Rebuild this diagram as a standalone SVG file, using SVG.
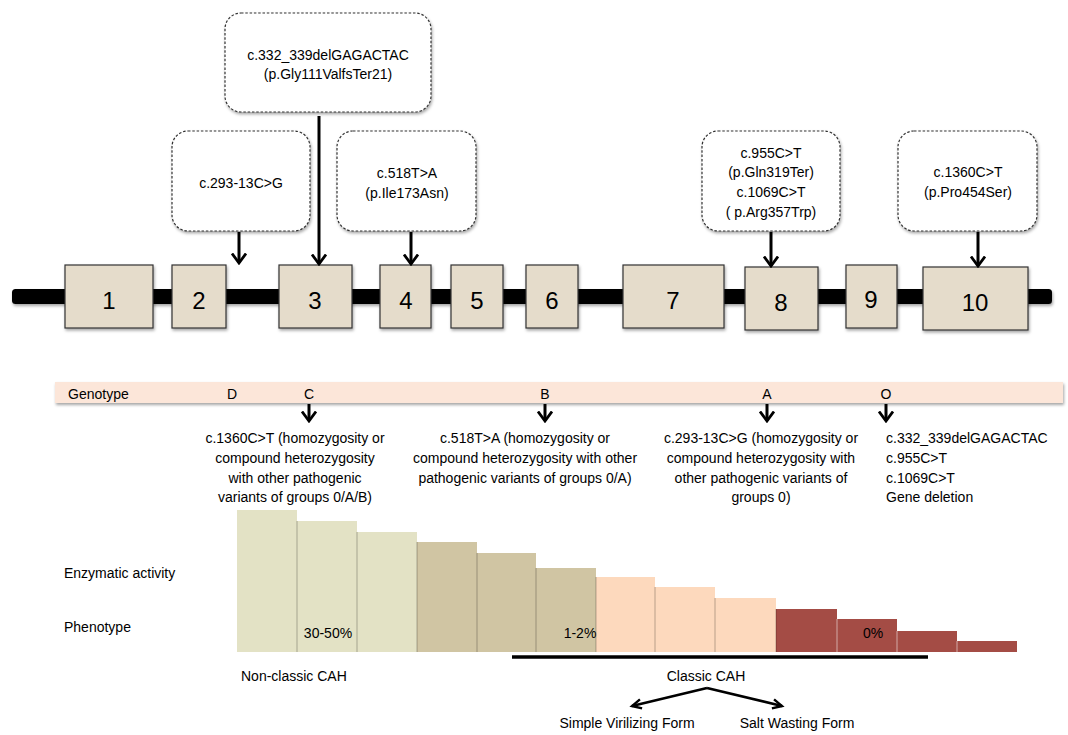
<svg xmlns="http://www.w3.org/2000/svg" width="1068" height="735" viewBox="0 0 1068 735">
<defs>
<filter id="sh" x="-10%" y="-10%" width="130%" height="140%">
<feDropShadow dx="1" dy="2" stdDeviation="1.5" flood-color="#000" flood-opacity="0.35"/>
</filter>
<marker id="chev" viewBox="0 0 12 16" refX="10.5" refY="8" markerWidth="12" markerHeight="16" markerUnits="userSpaceOnUse" orient="auto">
<path d="M1,1 L10.5,8 L1,15" fill="none" stroke="#000" stroke-width="2.8"/>
</marker>
<marker id="chev2" viewBox="0 0 14 12" refX="11" refY="6" markerWidth="13" markerHeight="12" markerUnits="userSpaceOnUse" orient="auto">
<path d="M1,1 L11,6 L1,11" fill="none" stroke="#000" stroke-width="2.6"/>
</marker>
</defs>
<style>
text{font-family:"Liberation Sans",Arial,sans-serif;fill:#000;}
.t{font-size:14px;}
.c{text-anchor:middle;}
.num{font-size:24px;text-anchor:middle;}
.exon{fill:#e5dccb;stroke:#333;stroke-width:1.2;}
.call{fill:#fff;stroke:#333;stroke-width:1.2;stroke-dasharray:2.5 1.8;}
.arr{stroke:#000;stroke-width:3;fill:none;}
.g1{fill:#e3e2c5;}
.g2{fill:#d0c5a3;}
.g3{fill:#fdd9bd;}
.g4{fill:#a44c45;}
.sep{stroke:#000;stroke-opacity:0.18;stroke-width:1.5;}
.sepw{stroke:#fff;stroke-opacity:0.35;stroke-width:1.5;}
</style>

<!-- backbone -->
<g id="backbone">
<rect x="12" y="289" width="1040" height="15" rx="3.5" fill="#000" filter="url(#sh)"/>
</g>

<!-- exons -->
<g id="exon1"><rect class="exon" x="65" y="265" width="88" height="63" filter="url(#sh)"/><text class="num" x="109" y="309">1</text></g>
<g id="exon2"><rect class="exon" x="172" y="265" width="54" height="63" filter="url(#sh)"/><text class="num" x="199" y="309">2</text></g>
<g id="exon3"><rect class="exon" x="279" y="265" width="73" height="63" filter="url(#sh)"/><text class="num" x="315" y="309">3</text></g>
<g id="exon4"><rect class="exon" x="380" y="265" width="51" height="63" filter="url(#sh)"/><text class="num" x="406" y="309">4</text></g>
<g id="exon5"><rect class="exon" x="451" y="265" width="52" height="63" filter="url(#sh)"/><text class="num" x="477" y="309">5</text></g>
<g id="exon6"><rect class="exon" x="526" y="265" width="52" height="63" filter="url(#sh)"/><text class="num" x="552" y="309">6</text></g>
<g id="exon7"><rect class="exon" x="623" y="265" width="101" height="63" filter="url(#sh)"/><text class="num" x="673" y="309">7</text></g>
<g id="exon8"><rect class="exon" x="745" y="267" width="73" height="63" filter="url(#sh)"/><text class="num" x="781" y="311">8</text></g>
<g id="exon9"><rect class="exon" x="846" y="265" width="51" height="63" filter="url(#sh)"/><text class="num" x="871" y="308">9</text></g>
<g id="exon10"><rect class="exon" x="923" y="267" width="105" height="63" filter="url(#sh)"/><text class="num" x="975" y="311">10</text></g>

<!-- callouts -->
<g id="call-332"><rect class="call" x="225" y="13" width="206" height="99" rx="16" filter="url(#sh)"/>
<text class="t c" x="328" y="60">c.332_339delGAGACTAC</text>
<text class="t c" x="328" y="79">(p.Gly111ValfsTer21)</text></g>
<g id="call-293"><rect class="call" x="172" y="131" width="138" height="100" rx="16" filter="url(#sh)"/>
<text class="t c" x="241" y="188">c.293-13C&gt;G</text></g>
<g id="call-518"><rect class="call" x="337" y="131" width="139" height="100" rx="16" filter="url(#sh)"/>
<text class="t c" x="407" y="178">c.518T&gt;A</text>
<text class="t c" x="407" y="198">(p.Ile173Asn)</text></g>
<g id="call-955"><rect class="call" x="702" y="131" width="138" height="100" rx="16" filter="url(#sh)"/>
<text class="t c" x="771" y="158">c.955C&gt;T</text>
<text class="t c" x="771" y="177">(p.Gln319Ter)</text>
<text class="t c" x="771" y="197">c.1069C&gt;T</text>
<text class="t c" x="771" y="217">( p.Arg357Trp)</text></g>
<g id="call-1360"><rect class="call" x="898" y="131" width="139" height="100" rx="16" filter="url(#sh)"/>
<text class="t c" x="968" y="177">c.1360C&gt;T</text>
<text class="t c" x="968" y="197">(p.Pro454Ser)</text></g>

<!-- connectors -->
<g id="connectors">
<line class="arr" x1="239" y1="232" x2="239" y2="263" marker-end="url(#chev)"/>
<line class="arr" x1="319" y1="116" x2="319" y2="264" marker-end="url(#chev)"/>
<line class="arr" x1="411" y1="232" x2="411" y2="264" marker-end="url(#chev)"/>
<line class="arr" x1="771" y1="232" x2="771" y2="266" marker-end="url(#chev)"/>
<line class="arr" x1="978" y1="232" x2="978" y2="266" marker-end="url(#chev)"/>
<line class="arr" x1="309" y1="404" x2="309" y2="421" marker-end="url(#chev)"/>
<line class="arr" x1="545" y1="404" x2="545" y2="421" marker-end="url(#chev)"/>
<line class="arr" x1="767" y1="404" x2="767" y2="421" marker-end="url(#chev)"/>
<line class="arr" x1="886" y1="404" x2="886" y2="421" marker-end="url(#chev)"/>
<line x1="512" y1="657" x2="928" y2="657" stroke="#000" stroke-width="3.5"/>
<line x1="707" y1="688" x2="632" y2="706" stroke="#000" stroke-width="2.6" marker-end="url(#chev2)"/>
<line x1="707" y1="688" x2="782" y2="706" stroke="#000" stroke-width="2.6" marker-end="url(#chev2)"/>
</g>

<!-- genotype bar -->
<g id="genotype">
<rect x="55" y="382" width="1008" height="21" fill="#fce6d9" filter="url(#sh)"/>
<text class="t" x="68" y="399">Genotype</text>
<text class="t c" x="232" y="399">D</text>
<text class="t c" x="309" y="399">C</text>
<text class="t c" x="545" y="399">B</text>
<text class="t c" x="767" y="399">A</text>
<text class="t c" x="886" y="399">O</text>
</g>

<g id="groupC">
<text class="t c" x="295" y="443">c.1360C&gt;T (homozygosity or</text>
<text class="t c" x="295" y="463">compound heterozygosity</text>
<text class="t c" x="295" y="483">with other pathogenic</text>
<text class="t c" x="295" y="502">variants of groups 0/A/B)</text>
</g>
<g id="groupB">
<text class="t c" x="525" y="443">c.518T&gt;A (homozygosity or</text>
<text class="t c" x="525" y="463">compound heterozygosity with other</text>
<text class="t c" x="525" y="483">pathogenic variants of groups 0/A)</text>
</g>
<g id="groupA">
<text class="t c" x="761" y="443">c.293-13C&gt;G (homozygosity or</text>
<text class="t c" x="761" y="463">compound heterozygosity with</text>
<text class="t c" x="761" y="483">other pathogenic variants of</text>
<text class="t c" x="761" y="502">groups 0)</text>
</g>
<g id="groupO">
<text class="t" x="886" y="443">c.332_339delGAGACTAC</text>
<text class="t" x="886" y="463">c.955C&gt;T</text>
<text class="t" x="886" y="483">c.1069C&gt;T</text>
<text class="t" x="886" y="502">Gene deletion</text>
</g>

<!-- bar chart -->
<g id="bars">
<rect class="g1" x="237" y="510" width="60" height="142"/>
<rect class="g1" x="297" y="521" width="60" height="131"/>
<rect class="g1" x="357" y="532" width="60" height="120"/>
<rect class="g2" x="417" y="542" width="60" height="110"/>
<rect class="g2" x="477" y="553" width="59" height="99"/>
<rect class="g2" x="536" y="568" width="60" height="84"/>
<rect class="g3" x="596" y="577" width="59" height="75"/>
<rect class="g3" x="655" y="587" width="60" height="65"/>
<rect class="g3" x="715" y="598" width="61" height="54"/>
<rect class="g4" x="776" y="609" width="61" height="43"/>
<rect class="g4" x="837" y="619" width="60" height="33"/>
<rect class="g4" x="897" y="631" width="60" height="21"/>
<rect class="g4" x="957" y="641" width="60" height="11"/>
<line class="sep" x1="297" y1="521" x2="297" y2="652"/>
<line class="sep" x1="357" y1="532" x2="357" y2="652"/>
<line class="sep" x1="417" y1="542" x2="417" y2="652"/>
<line class="sep" x1="477" y1="553" x2="477" y2="652"/>
<line class="sep" x1="536" y1="568" x2="536" y2="652"/>
<line class="sep" x1="596" y1="577" x2="596" y2="652"/>
<line class="sep" x1="655" y1="587" x2="655" y2="652"/>
<line class="sep" x1="715" y1="598" x2="715" y2="652"/>
<line class="sep" x1="776" y1="609" x2="776" y2="652"/>
<line class="sepw" x1="837" y1="619" x2="837" y2="652"/>
<line class="sepw" x1="897" y1="631" x2="897" y2="652"/>
<line class="sepw" x1="957" y1="641" x2="957" y2="652"/>
<text class="t c" x="328" y="638">30-50%</text>
<text class="t c" x="580" y="638">1-2%</text>
<text class="t c" x="873" y="638">0%</text>
</g>

<g id="labels">
<text class="t" x="64" y="578">Enzymatic activity</text>
<text class="t" x="64" y="632">Phenotype</text>
<text class="t" x="241" y="681">Non-classic CAH</text>
<text class="t c" x="706" y="681">Classic CAH</text>
<text class="t c" x="627" y="728">Simple Virilizing Form</text>
<text class="t c" x="797" y="728">Salt Wasting Form</text>
</g>
</svg>
